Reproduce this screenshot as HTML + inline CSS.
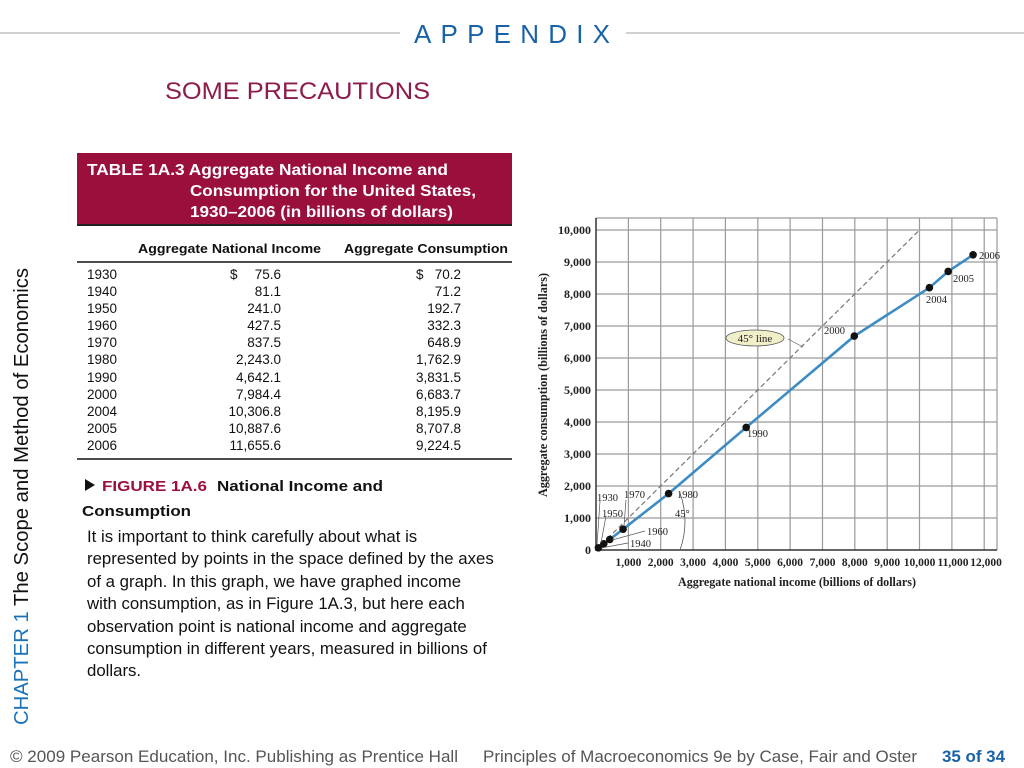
<!DOCTYPE html>
<html><head><meta charset="utf-8"><style>
html,body{margin:0;padding:0;background:#fff;}
svg{display:block;font-family:"Liberation Sans",sans-serif;}
.s{font-family:"Liberation Serif",serif;fill:#222;}
</style></head><body>
<svg width="1024" height="768" viewBox="0 0 1024 768" xmlns="http://www.w3.org/2000/svg">
<line x1="0" y1="33" x2="400" y2="33" stroke="#d0d0d0" stroke-width="2"/>
<line x1="626" y1="33" x2="1024" y2="33" stroke="#d0d0d0" stroke-width="2"/>
<text x="414" y="43" font-size="26" fill="#1a62a8" textLength="196" lengthAdjust="spacing">APPENDIX</text>
<text x="165" y="99" font-size="24" fill="#8c1c4c" textLength="265" lengthAdjust="spacingAndGlyphs">SOME PRECAUTIONS</text>

<!-- table -->
<rect x="77" y="153" width="435" height="73" fill="#9b0f3d"/>
<line x1="77" y1="225" x2="512" y2="225" stroke="#222" stroke-width="2"/>
<g fill="#fff" font-weight="bold" font-size="16">
<text x="87" y="175" textLength="361" lengthAdjust="spacingAndGlyphs">TABLE 1A.3  Aggregate National Income and</text>
<text x="190" y="196" textLength="286" lengthAdjust="spacingAndGlyphs">Consumption for the United States,</text>
<text x="190" y="217" textLength="263" lengthAdjust="spacingAndGlyphs">1930–2006 (in billions of dollars)</text>
</g>
<g font-size="13" font-weight="bold" fill="#111">
<text x="138" y="253" textLength="183" lengthAdjust="spacingAndGlyphs">Aggregate National Income</text>
<text x="344" y="253" textLength="164" lengthAdjust="spacingAndGlyphs">Aggregate Consumption</text>
</g>
<line x1="77" y1="262" x2="512" y2="262" stroke="#111" stroke-width="1.5"/>
<line x1="77" y1="459" x2="512" y2="459" stroke="#111" stroke-width="1.5"/>
<g font-size="13.5" fill="#111">
<text x="87" y="279">1930</text><text x="87" y="296">1940</text><text x="87" y="313">1950</text><text x="87" y="330">1960</text><text x="87" y="347">1970</text><text x="87" y="364">1980</text><text x="87" y="382">1990</text><text x="87" y="399">2000</text><text x="87" y="416">2004</text><text x="87" y="433">2005</text><text x="87" y="450">2006</text>
<text x="230" y="279">$</text><text x="416" y="279">$</text>
<g text-anchor="end">
<text x="281" y="279">75.6</text><text x="281" y="296">81.1</text><text x="281" y="313">241.0</text><text x="281" y="330">427.5</text><text x="281" y="347">837.5</text><text x="281" y="364">2,243.0</text><text x="281" y="382">4,642.1</text><text x="281" y="399">7,984.4</text><text x="281" y="416">10,306.8</text><text x="281" y="433">10,887.6</text><text x="281" y="450">11,655.6</text>
<text x="461" y="279">70.2</text><text x="461" y="296">71.2</text><text x="461" y="313">192.7</text><text x="461" y="330">332.3</text><text x="461" y="347">648.9</text><text x="461" y="364">1,762.9</text><text x="461" y="382">3,831.5</text><text x="461" y="399">6,683.7</text><text x="461" y="416">8,195.9</text><text x="461" y="433">8,707.8</text><text x="461" y="450">9,224.5</text>
</g></g>

<!-- figure caption -->
<polygon points="85,479 85,491 95,485" fill="#111"/>
<text x="102" y="491" font-size="15" font-weight="bold" fill="#9b0f3d" textLength="105" lengthAdjust="spacingAndGlyphs">FIGURE 1A.6</text>
<text x="217" y="491" font-size="15" font-weight="bold" fill="#111" textLength="166" lengthAdjust="spacingAndGlyphs">National Income and</text>
<text x="82" y="516" font-size="15" font-weight="bold" fill="#111" textLength="109" lengthAdjust="spacingAndGlyphs">Consumption</text>
<g font-size="16.8" fill="#111">
<text x="87" y="542">It is important to think carefully about what is</text>
<text x="87" y="564">represented by points in the space defined by the axes</text>
<text x="87" y="587">of a graph.  In this graph, we have graphed income</text>
<text x="87" y="609">with consumption, as in Figure 1A.3, but here each</text>
<text x="87" y="632">observation point is national income and aggregate</text>
<text x="87" y="654">consumption in different years, measured in billions of</text>
<text x="87" y="676">dollars.</text>
</g>

<!-- vertical chapter -->
<text transform="translate(28,725) rotate(-90)" font-size="20" textLength="457" lengthAdjust="spacingAndGlyphs"><tspan fill="#1a72b8">CHAPTER 1</tspan><tspan fill="#111">  The Scope and Method of Economics</tspan></text>

<!-- footer -->
<g font-size="16.8" fill="#555">
<text x="10" y="762" textLength="448" lengthAdjust="spacingAndGlyphs">© 2009 Pearson Education, Inc. Publishing as Prentice Hall</text>
<text x="483" y="762" textLength="434" lengthAdjust="spacingAndGlyphs">Principles of Macroeconomics 9e by Case, Fair and Oster</text>
</g>
<text x="942" y="762" font-size="16.8" font-weight="bold" fill="#1a62a8" textLength="63" lengthAdjust="spacingAndGlyphs">35 of 34</text>

<!-- chart -->
<g stroke="#9a9a9a" stroke-width="1.2">
<line x1="596" y1="218" x2="997" y2="218"/>
<line x1="596" y1="518" x2="997" y2="518"/><line x1="596" y1="486" x2="997" y2="486"/><line x1="596" y1="454" x2="997" y2="454"/><line x1="596" y1="422" x2="997" y2="422"/><line x1="596" y1="390" x2="997" y2="390"/><line x1="596" y1="358" x2="997" y2="358"/><line x1="596" y1="326" x2="997" y2="326"/><line x1="596" y1="294" x2="997" y2="294"/><line x1="596" y1="262" x2="997" y2="262"/><line x1="596" y1="230" x2="997" y2="230"/>
<line x1="628.4" y1="218" x2="628.4" y2="550"/><line x1="660.7" y1="218" x2="660.7" y2="550"/><line x1="693.1" y1="218" x2="693.1" y2="550"/><line x1="725.4" y1="218" x2="725.4" y2="550"/><line x1="757.8" y1="218" x2="757.8" y2="550"/><line x1="790.1" y1="218" x2="790.1" y2="550"/><line x1="822.5" y1="218" x2="822.5" y2="550"/><line x1="854.8" y1="218" x2="854.8" y2="550"/><line x1="887.2" y1="218" x2="887.2" y2="550"/><line x1="919.5" y1="218" x2="919.5" y2="550"/><line x1="951.9" y1="218" x2="951.9" y2="550"/><line x1="984.2" y1="218" x2="984.2" y2="550"/><line x1="997" y1="218" x2="997" y2="550"/>
</g>
<line x1="596" y1="218" x2="596" y2="551" stroke="#333" stroke-width="1.5"/>
<line x1="596" y1="550" x2="997" y2="550" stroke="#333" stroke-width="1.5"/>
<line x1="596" y1="550" x2="919.5" y2="230" stroke="#777" stroke-width="1.2" stroke-dasharray="5,3"/>
<path d="M680,493 A84,84 0 0 1 680,550" fill="none" stroke="#555" stroke-width="0.8"/>
<polyline points="598.4,547.8 598.6,547.7 603.8,543.8 609.8,539.4 623.1,529.2 668.6,493.6 746.2,427.4 854.3,336.1 929.4,287.7 948.2,271.4 973.1,254.8" fill="none" stroke="#3d8cc4" stroke-width="2.6"/>
<g fill="#111">
<circle cx="598.4" cy="547.8" r="3.8"/><circle cx="603.8" cy="543.8" r="3.8"/><circle cx="609.8" cy="539.4" r="3.8"/><circle cx="623.1" cy="529.2" r="3.8"/><circle cx="668.6" cy="493.6" r="3.8"/><circle cx="746.2" cy="427.4" r="3.8"/><circle cx="854.3" cy="336.1" r="3.8"/><circle cx="929.4" cy="287.7" r="3.8"/><circle cx="948.2" cy="271.4" r="3.8"/><circle cx="973.1" cy="254.8" r="3.8"/>
</g>
<g stroke="#555" stroke-width="0.7">
<line x1="597" y1="545" x2="600" y2="501"/><line x1="601" y1="543" x2="606" y2="516"/><line x1="612" y1="540" x2="645" y2="531"/><line x1="601" y1="548" x2="628" y2="543"/><line x1="624" y1="526" x2="626" y2="500"/>
<line x1="788" y1="339" x2="803" y2="347"/>
</g>
<ellipse cx="755" cy="338" rx="29" ry="8" fill="#f1efc8" stroke="#555" stroke-width="0.8"/>
<text x="755" y="342" class="s" font-size="11" text-anchor="middle">45° line</text>
<g class="s" font-size="10.5">
<text x="597" y="501">1930</text><text x="624" y="498">1970</text><text x="677" y="498">1980</text><text x="602" y="517">1950</text><text x="647" y="535">1960</text><text x="630" y="547">1940</text><text x="675" y="517">45°</text>
<text x="747" y="437">1990</text><text x="824" y="334">2000</text><text x="926" y="303">2004</text><text x="953" y="282">2005</text><text x="979" y="259">2006</text>
</g>
<g class="s" font-size="12" font-weight="bold" text-anchor="end">
<text x="591" y="554">0</text><text x="591" y="522">1,000</text><text x="591" y="490">2,000</text><text x="591" y="458">3,000</text><text x="591" y="426">4,000</text><text x="591" y="394">5,000</text><text x="591" y="362">6,000</text><text x="591" y="330">7,000</text><text x="591" y="298">8,000</text><text x="591" y="266">9,000</text><text x="591" y="234">10,000</text>
</g>
<g class="s" font-size="11.5" font-weight="bold" text-anchor="middle">
<text x="628.4" y="566">1,000</text><text x="660.7" y="566">2,000</text><text x="693.1" y="566">3,000</text><text x="725.4" y="566">4,000</text><text x="757.8" y="566">5,000</text><text x="790.1" y="566">6,000</text><text x="822.5" y="566">7,000</text><text x="854.8" y="566">8,000</text><text x="887.2" y="566">9,000</text><text x="919.5" y="566">10,000</text><text x="953" y="566">11,000</text><text x="986" y="566">12,000</text>
</g>
<text x="797" y="586" class="s" font-size="12.5" font-weight="bold" text-anchor="middle" textLength="238" lengthAdjust="spacingAndGlyphs">Aggregate national income (billions of dollars)</text>
<text transform="translate(547,385) rotate(-90)" class="s" font-size="12.5" font-weight="bold" text-anchor="middle" textLength="224" lengthAdjust="spacingAndGlyphs">Aggregate consumption (billions of dollars)</text>
</svg>
</body></html>
